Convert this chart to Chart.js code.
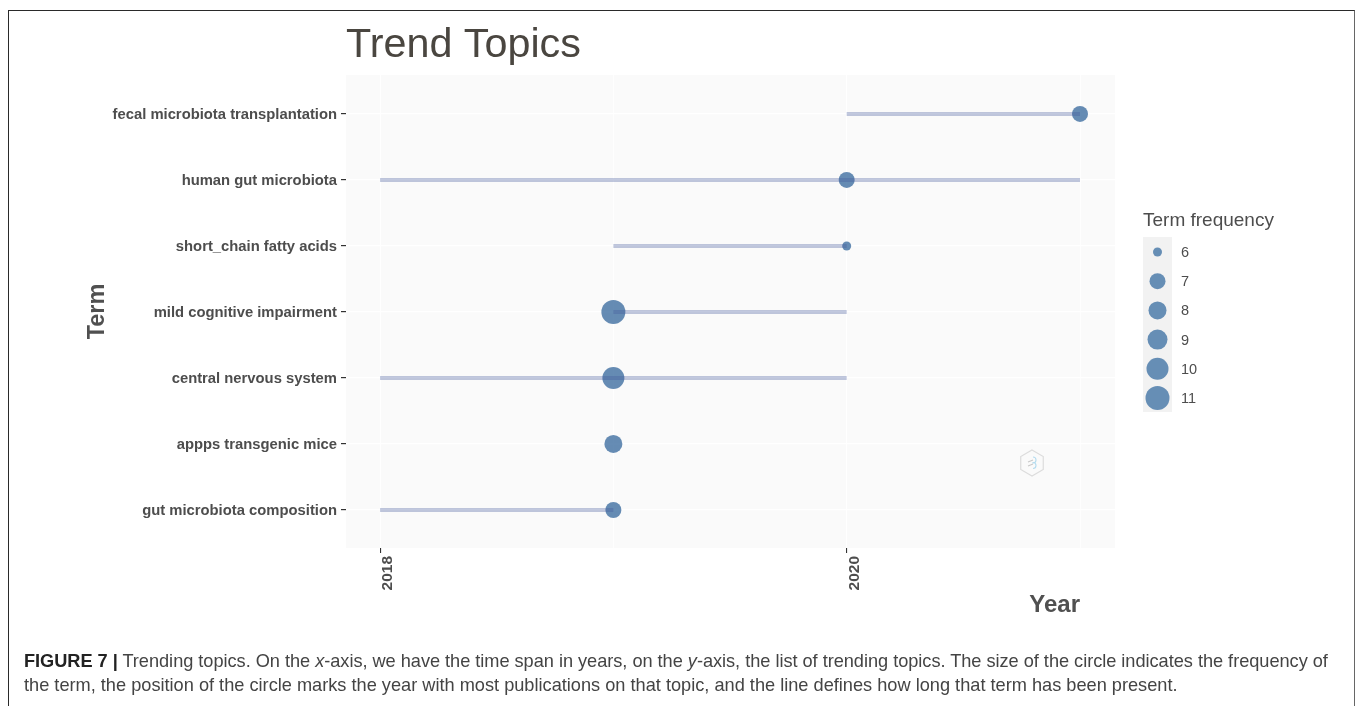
<!DOCTYPE html>
<html><head><meta charset="utf-8">
<style>
html,body{margin:0;padding:0;background:#fff;width:1357px;height:706px;overflow:hidden}
#c{position:absolute;left:0;top:0}
#frame{position:absolute;left:8px;top:10px;width:1347px;height:700px;border:1.6px solid #2a2a2a;border-right-color:#666;box-sizing:border-box}
.cap{position:absolute;left:24px;font:18.2px "Liberation Sans",sans-serif;color:#444;white-space:nowrap}
</style></head><body>
<div id="frame"></div>
<canvas id="c" width="1357" height="706"></canvas>
<div class="cap" style="top:651px;letter-spacing:-0.03px"><b style="color:#222">FIGURE 7 |</b> Trending topics. On the <i>x</i>-axis, we have the time span in years, on the <i>y</i>-axis, the list of trending topics. The size of the circle indicates the frequency of</div>
<div class="cap" style="top:675px">the term, the position of the circle marks the year with most publications on that topic, and the line defines how long that term has been present.</div>
<script src="https://cdn.jsdelivr.net/npm/chart.js@4"></script>
<script>
const terms = ["fecal microbiota transplantation","human gut microbiota","short_chain fatty acids","mild cognitive impairment","central nervous system","appps transgenic mice","gut microbiota composition"];
const yearStart = [2020,2018,2019,2019,2018,2019,2018];
const yearEnd   = [2021,2021,2020,2020,2020,2019,2019];
const yearPeak  = [2021,2020,2020,2019,2019,2019,2019];
const termFreq  = [7,7,6,11,10,8,7];
const legendFreq = [6,7,8,9,10,11];
const legendRadius = [4.5,8,9,10,11,12];
const xTickYears = [2018,2019,2020,2021];
const xLabelYears = [2018,2020];

const radiusOf = f => legendRadius[legendFreq.indexOf(f)];
const pointColor = 'rgba(68,115,163,0.82)';
const lineColor = 'rgba(66,88,155,0.33)';
const textColor = '#4d4d4d';
const FONT = '"Liberation Sans", Arial, sans-serif';

const lineSets = terms.map((t,i)=>({
  type:'line', label:t, order:1,
  data:[{x:yearStart[i],y:i},{x:yearEnd[i],y:i}],
  borderColor:lineColor, borderWidth:4, borderCapStyle:'butt',
  pointRadius:0, fill:false, clip:false
}));
const bubbleSet = {
  type:'bubble', label:'Term frequency', order:2,
  data:terms.map((t,i)=>({x:yearPeak[i],y:i,r:radiusOf(termFreq[i])})),
  backgroundColor:pointColor, borderWidth:0
};

const decor = {
  id:'decor',
  beforeDraw(c){
    const a=c.chartArea,g=c.ctx;
    g.save();g.fillStyle='#fafafa';g.fillRect(a.left,a.top,a.right-a.left,a.bottom-a.top);g.restore();
  },
  afterDraw(c){
    const g=c.ctx;
    g.save();
    // legend
    g.fillStyle='#f2f2f2';g.fillRect(1143,237,29,175);
    g.fillStyle=textColor;g.textBaseline='middle';g.textAlign='left';
    g.font='19px '+FONT;g.fillText('Term frequency',1143,221);
    g.font='14.5px '+FONT;
    legendFreq.forEach((f,i)=>{
      const y=252+i*29.2;
      g.fillStyle='rgba(78,124,170,0.85)';
      g.beginPath();g.arc(1157.5,y,legendRadius[i],0,Math.PI*2);g.fill();
      g.fillStyle=textColor;g.fillText(String(f),1181,y+1);
    });
    // x-axis title
    g.font='bold 24px '+FONT;g.fillStyle='#505050';g.textAlign='right';
    g.fillText('Year',1080,605);
    // watermark
    const cx=1032,cy=463,r=13;
    g.strokeStyle='#dcdcdc';g.lineWidth=1.2;g.beginPath();
    for(let i=0;i<6;i++){const t=Math.PI/3*i-Math.PI/2;const px=cx+r*Math.cos(t),py=cy+r*Math.sin(t);i?g.lineTo(px,py):g.moveTo(px,py);}
    g.closePath();g.stroke();
    g.strokeStyle='#b5dcef';g.lineWidth=1.1;
    g.beginPath();g.arc(cx+1,cy-3,3,-Math.PI/2,Math.PI/2);g.arc(cx+1,cy+2.5,3,-Math.PI/2,Math.PI/2);g.stroke();
    g.strokeStyle='#c9c9c9';g.beginPath();g.moveTo(cx-4,cy-1);g.lineTo(cx+1,cy-3);g.moveTo(cx-4,cy+3);g.lineTo(cx+1,cy+1);g.stroke();
    g.restore();
  }
};

new Chart(document.getElementById('c'),{
  data:{datasets:[...lineSets,bubbleSet]},
  plugins:[decor],
  options:{
    responsive:false,animation:false,
    layout:{padding:{left:0,right:242,top:0,bottom:0}},
    plugins:{
      legend:{display:false},tooltip:{enabled:false},
      title:{display:true,text:'Trend Topics',align:'start',fullSize:false,color:'#4a4640',
        font:{family:FONT,size:41.3,weight:'normal',lineHeight:1},padding:{top:24.7,bottom:9}}
    },
    scales:{
      x:{type:'linear',min:2017.854,max:2021.15,
        afterBuildTicks(s){s.ticks=xTickYears.map(v=>({value:v}));},
        afterFit(s){s.height=158;},
        border:{display:false},
        grid:{color:'#ffffff',lineWidth:ctx=>xLabelYears.includes(ctx.tick&&ctx.tick.value)?1.1:0.8,tickLength:5,
          tickColor:ctx=>xLabelYears.includes(ctx.tick&&ctx.tick.value)?'#333':'rgba(0,0,0,0)'},
        ticks:{autoSkip:false,maxRotation:90,minRotation:90,padding:3,labelOffset:8,color:textColor,
          font:{family:FONT,size:15.5,weight:'bold'},
          callback:v=>xLabelYears.includes(v)?String(v):''}
      },
      y:{type:'linear',reverse:true,min:-0.59,max:6.576,
        afterBuildTicks(s){s.ticks=terms.map((t,i)=>({value:i}));},
        afterFit(s){s.width=346;},
        border:{display:false},
        grid:{color:'#ffffff',lineWidth:1.2,tickLength:5,tickColor:'#333'},
        title:{display:true,text:'Term',color:'#505050',font:{family:FONT,size:23.5,weight:'bold'},padding:{top:83,bottom:0}},
        ticks:{autoSkip:false,padding:4,labelOffset:1,color:textColor,font:{family:FONT,size:14.8,weight:'bold'},
          callback:v=>terms[v]}
      }
    }
  }
});
</script>
</body></html>
